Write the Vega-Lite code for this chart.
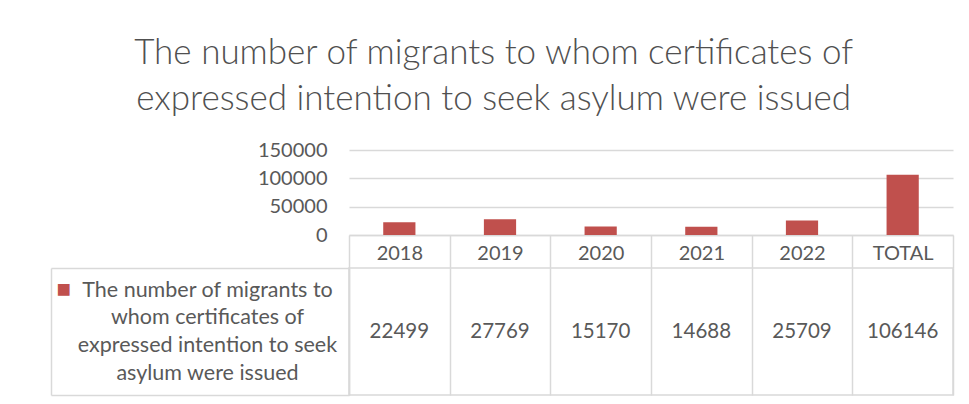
{
  "$schema": "https://vega.github.io/schema/vega-lite/v6.json",
  "background": "white",
  "padding": {"left": 49, "top": 36, "right": 18, "bottom": 9},
  "title": {
    "text": ["The number of migrants to whom certificates of", "expressed intention to seek asylum were issued"],
    "font": "Lato",
    "fontSize": 35,
    "fontWeight": 300,
    "color": "#505050",
    "lineHeight": 46,
    "anchor": "middle",
    "dx": -8,
    "offset": 23
  },
  "data": {
    "values": [
      {"category": "2018", "value": 22499, "series": "The number of migrants to whom certificates of expressed intention to seek asylum were issued"},
      {"category": "2019", "value": 27769, "series": "The number of migrants to whom certificates of expressed intention to seek asylum were issued"},
      {"category": "2020", "value": 15170, "series": "The number of migrants to whom certificates of expressed intention to seek asylum were issued"},
      {"category": "2021", "value": 14688, "series": "The number of migrants to whom certificates of expressed intention to seek asylum were issued"},
      {"category": "2022", "value": 25709, "series": "The number of migrants to whom certificates of expressed intention to seek asylum were issued"},
      {"category": "TOTAL", "value": 106146, "series": "The number of migrants to whom certificates of expressed intention to seek asylum were issued"}
    ]
  },
  "bounds": "flush",
  "spacing": 33,
  "resolve": {"scale": {"x": "independent", "y": "independent"}},
  "config": {
    "view": {"stroke": null},
    "font": "Lato"
  },
  "vconcat": [
    {
      "width": 604,
      "height": 85,
      "mark": {"type": "bar", "color": "#c0504d", "width": {"band": 0.32}},
      "encoding": {
        "x": {
          "field": "category", "type": "nominal", "sort": null,
          "scale": {"paddingInner": 0, "paddingOuter": 0},
          "axis": {
            "title": null, "labelAngle": 0, "grid": false,
            "domainColor": "#d9d9d9", "domainWidth": 1.5,
            "tickBand": "extent", "tickSize": 33, "tickColor": "#d9d9d9", "tickWidth": 1.5,
            "labelBaseline": "middle", "labelPadding": -15,
            "labelFont": "Lato", "labelFontSize": 20, "labelColor": "#595959"
          }
        },
        "y": {
          "field": "value", "type": "quantitative",
          "scale": {"domain": [0, 150000]},
          "axis": {
            "title": null, "values": [0, 50000, 100000, 150000], "format": "d",
            "domain": false, "ticks": false, "labelPadding": 22,
            "gridColor": "#d9d9d9", "gridWidth": 1.5,
            "labelFont": "Lato", "labelFontSize": 20, "labelColor": "#595959"
          }
        }
      }
    },
    {
      "width": 604,
      "height": 127,
      "view": {"stroke": "#d9d9d9", "strokeWidth": 1.5},
      "layer": [
        {
          "mark": {"type": "text", "font": "Lato", "fontSize": 20.5, "color": "#595959"},
          "encoding": {
            "x": {
              "field": "category", "type": "nominal", "sort": null,
              "scale": {"paddingInner": 0, "paddingOuter": 0},
              "axis": {
                "title": null, "labels": false, "ticks": false, "domain": false,
                "grid": true, "gridColor": "#d9d9d9", "gridWidth": 1.5, "tickBand": "extent"
              }
            },
            "y": {
              "field": "series", "type": "nominal",
              "scale": {"paddingInner": 0, "paddingOuter": 0},
              "axis": {
                "title": null, "orient": "left", "grid": false,
                "domainColor": "#d9d9d9", "domainWidth": 1.5,
                "ticks": false, "tickSize": 0,
                "labelExpr": "['The number of migrants to', 'whom certificates of', 'expressed intention to seek', 'asylum were issued']",
                "labelAlign": "center", "labelBaseline": "middle", "labelPadding": 142, "labelOffset": -41.5,
                "labelLineHeight": 27.8, "labelLimit": 400,
                "labelFont": "Lato", "labelFontSize": 21.5, "labelColor": "#595959"
              }
            },
            "text": {"field": "value", "type": "quantitative", "format": "d"}
          }
        },
        {
          "mark": {"type": "text", "opacity": 0},
          "encoding": {
            "y": {
              "field": "series", "type": "nominal",
              "scale": {"paddingInner": 0, "paddingOuter": 0},
              "axis": {
                "title": null, "orient": "left", "offset": 298, "grid": false,
                "domainColor": "#d9d9d9", "domainWidth": 1.5,
                "ticks": true, "tickBand": "extent", "tickSize": -298, "tickColor": "#d9d9d9", "tickWidth": 1.5,
                "labels": false
              }
            }
          }
        },
        {
          "mark": {"type": "text", "opacity": 0},
          "encoding": {
            "y": {
              "field": "series", "type": "nominal",
              "scale": {"paddingInner": 0, "paddingOuter": 0},
              "axis": {
                "title": null, "orient": "left", "offset": 298, "grid": false,
                "domain": false, "ticks": false, "tickSize": 0,
                "labelExpr": "'■'", "labelAlign": "left", "labelBaseline": "middle",
                "labelPadding": -5, "labelOffset": -42,
                "labelFontSize": 24, "labelColor": "#c0504d"
              }
            }
          }
        }
      ],
      "resolve": {"scale": {"y": "independent"}, "axis": {"y": "independent"}}
    }
  ]
}
